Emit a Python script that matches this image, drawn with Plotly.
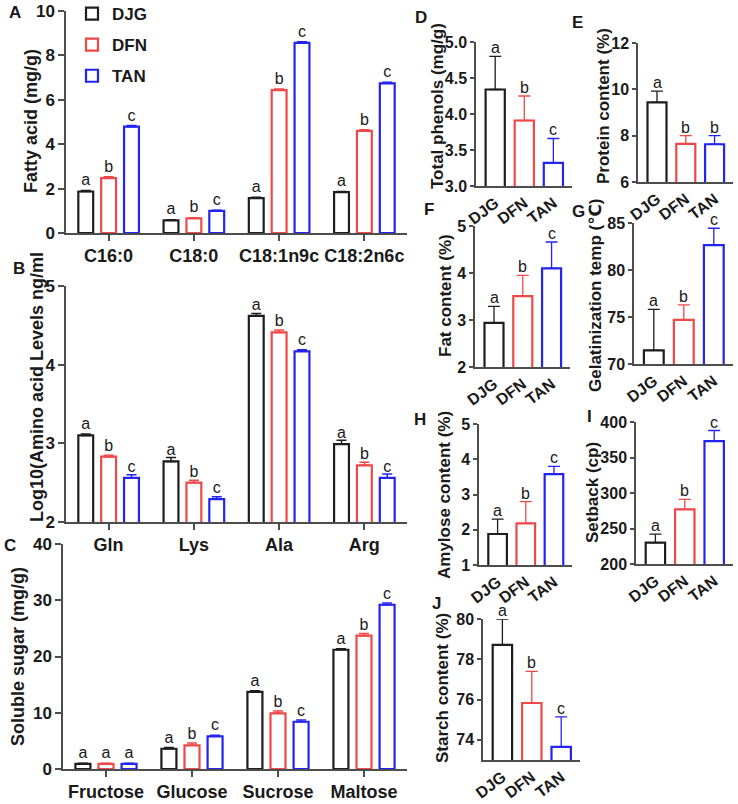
import plotly.graph_objects as go

W, H = 738, 804
FONT = "Arial, Liberation Sans, DejaVu Sans, sans-serif"
AXC = "#4d4d4d"
TXT = "#1a1a1a"

groups = ["DJG", "DFN", "TAN"]
colors = {"DJG": "#1e1e1e", "DFN": "#f04848", "TAN": "#2424f0"}

# ---- Panel A: fatty acids (mg/g)
fa_cats = ["C16:0", "C18:0", "C18:1n9c", "C18:2n6c"]
fa_DJG = [1.87, 0.57, 1.57, 1.84]
fa_DFN = [2.47, 0.66, 6.44, 4.60]
fa_TAN = [4.79, 1.00, 8.56, 6.74]
fa_err_DJG = [0.05, 0.03, 0.04, 0.03]
fa_err_DFN = [0.06, 0.03, 0.05, 0.05]
fa_err_TAN = [0.05, 0.03, 0.05, 0.05]
fa_let_DJG = ["a", "a", "a", "a"]
fa_let_DFN = ["b", "b", "b", "b"]
fa_let_TAN = ["c", "c", "c", "c"]

# ---- Panel B: amino acids (log10 ng/ml)
aa_cats = ["Gln", "Lys", "Ala", "Arg"]
aa_DJG = [3.10, 2.77, 4.62, 2.99]
aa_DFN = [2.83, 2.50, 4.41, 2.72]
aa_TAN = [2.56, 2.29, 4.17, 2.56]
aa_err_DJG = [0.02, 0.05, 0.03, 0.05]
aa_err_DFN = [0.02, 0.03, 0.03, 0.04]
aa_err_TAN = [0.04, 0.03, 0.02, 0.05]
aa_let_DJG = ["a", "a", "a", "a"]
aa_let_DFN = ["b", "b", "b", "b"]
aa_let_TAN = ["c", "c", "c", "c"]

# ---- Panel C: soluble sugar (mg/g)
sg_cats = ["Fructose", "Glucose", "Sucrose", "Maltose"]
sg_DJG = [0.9, 3.6, 13.7, 21.2]
sg_DFN = [0.9, 4.2, 9.9, 23.7]
sg_TAN = [0.9, 5.8, 8.4, 29.2]
sg_err_DJG = [0.1, 0.2, 0.2, 0.2]
sg_err_DFN = [0.1, 0.4, 0.4, 0.4]
sg_err_TAN = [0.1, 0.2, 0.3, 0.3]
sg_let_DJG = ["a", "a", "a", "a"]
sg_let_DFN = ["a", "b", "b", "b"]
sg_let_TAN = ["a", "c", "c", "c"]

# ---- Panels D-J (values for DJG, DFN, TAN)
tp_val = [4.34, 3.91, 3.32]; tp_err = [0.46, 0.34, 0.34]; tp_let = ["a", "b", "c"]
pc_val = [9.44, 7.65, 7.63]; pc_err = [0.48, 0.35, 0.37]; pc_let = ["a", "b", "b"]
fc_val = [2.94, 3.51, 4.10]; fc_err = [0.35, 0.44, 0.56]; fc_let = ["a", "b", "c"]
gt_val = [71.44, 74.69, 82.64]; gt_err = [4.38, 1.59, 1.80]; gt_let = ["a", "b", "c"]
am_val = [1.88, 2.18, 3.58]; am_err = [0.42, 0.62, 0.22]; am_let = ["a", "b", "c"]
sb_val = [230, 277, 373]; sb_err = [12, 14, 15]; sb_let = ["a", "b", "c"]
st_val = [78.72, 75.83, 73.65]; st_err = [1.27, 1.57, 1.49]; st_let = ["a", "b", "c"]


def dx(a, b):
    return [a / W, b / W]


def dy(top, bottom):
    return [1 - bottom / H, 1 - top / H]


fig = go.Figure()
layout = {}
annotations = []

# ---------------- grouped panels A, B, C ----------------
grouped = [
    (1, fa_cats, [fa_DJG, fa_DFN, fa_TAN], [fa_err_DJG, fa_err_DFN, fa_err_TAN],
     [fa_let_DJG, fa_let_DFN, fa_let_TAN], [0, 10], 2, (66, 407), (11, 233),
     "Fatty acid (mg/g)", (31, 121), "A", (15, 12)),
    (2, aa_cats, [aa_DJG, aa_DFN, aa_TAN], [aa_err_DJG, aa_err_DFN, aa_err_TAN],
     [aa_let_DJG, aa_let_DFN, aa_let_TAN], [2, 5], 1, (66, 407), (286, 522),
     "Log10(Amino acid Levels ng/ml", (37, 387), "B", (19, 269)),
    (3, sg_cats, [sg_DJG, sg_DFN, sg_TAN], [sg_err_DJG, sg_err_DFN, sg_err_TAN],
     [sg_let_DJG, sg_let_DFN, sg_let_TAN], [0, 40], 10, (63, 407), (544, 769),
     "Soluble sugar (mg/g)", (18, 657), "C", (10, 545)),
]

for idx, cats, vals, errs, lets, yr, dt, xd, yd, title, tpos, lab, lpos in grouped:
    xa = "x" if idx == 1 else f"x{idx}"
    ya = "y" if idx == 1 else f"y{idx}"
    for g, v, e, l in zip(groups, vals, errs, lets):
        fig.add_trace(go.Bar(
            x=cats, y=v, name=g, xaxis=xa, yaxis=ya,
            marker=dict(color="white", line=dict(color=colors[g], width=2.2)),
            error_y=dict(type="data", symmetric=False, array=e,
                         arrayminus=[0] * len(e), color=colors[g],
                         thickness=1.5, width=5),
            text=l, textposition="outside", constraintext="none", cliponaxis=False,
            textfont=dict(family=FONT, size=16, color=TXT),
            legendgroup=g, showlegend=(idx == 1),
        ))
    layout["xaxis" if idx == 1 else f"xaxis{idx}"] = dict(
        domain=dx(*xd), anchor=ya, type="category", categoryorder="array",
        categoryarray=cats, range=[-0.5, 3.5], showline=True, linecolor=AXC,
        linewidth=1.5, ticks="outside", ticklen=6, tickwidth=1.5, tickcolor=AXC,
        tickfont=dict(family=FONT, size=18, color=TXT, weight="bold"),
        showgrid=False, zeroline=False, fixedrange=True,
    )
    layout["yaxis" if idx == 1 else f"yaxis{idx}"] = dict(
        domain=dy(*yd), anchor=xa, range=yr, dtick=dt, showline=True, linecolor=AXC,
        linewidth=1.5, ticks="outside", ticklen=6, tickwidth=1.5, tickcolor=AXC,
        tickfont=dict(family=FONT, size=17, color=TXT, weight="bold"),
        showgrid=False, zeroline=False, fixedrange=True,
    )
    annotations.append(dict(
        text=title, x=tpos[0] / W, y=1 - tpos[1] / H, xref="paper", yref="paper",
        textangle=-90, showarrow=False, xanchor="center", yanchor="middle",
        font=dict(family=FONT, size=18, color=TXT, weight="bold"),
    ))
    annotations.append(dict(
        text=lab, x=lpos[0] / W, y=1 - lpos[1] / H, xref="paper", yref="paper",
        showarrow=False, xanchor="center", yanchor="middle",
        font=dict(family=FONT, size=17, color=TXT, weight="bold"),
    ))

# ---------------- single panels D-J ----------------
singles = [
    (4, tp_val, tp_err, tp_let, [3, 5], 0.5, ".1f", (476, 572), (42, 186),
     "Total phenols (mg/g)", (437, 106), "D", (421, 18)),
    (5, pc_val, pc_err, pc_let, [6, 12], 2, "", (638, 733), (43, 182),
     "Protein content (%)", (603, 106), "E", (577, 22)),
    (6, fc_val, fc_err, fc_let, [2, 5], 1, "", (475, 570), (226, 367),
     "Fat content (%)", (445, 296), "F", (429, 210)),
    (7, gt_val, gt_err, gt_let, [70, 85], 5, "", (634, 733), (223, 364),
     "Gelatinization temp (\u2103)", (595, 296), "G", (578, 211)),
    (8, am_val, am_err, am_let, [1, 5], 1, "", (479, 572), (424, 565),
     "Amylose content (%)", (445, 495), "H", (420, 420)),
    (9, sb_val, sb_err, sb_let, [200, 400], 50, "", (636, 733), (422, 564),
     "Setback (cp)", (592, 493), "I", (589, 416)),
    (10, st_val, st_err, st_let, [73, 80], 2, "", (483, 580), (619, 760),
     "Starch content (%)", (442, 688), "J", (437, 603)),
]

for idx, vals, errs, lets, yr, dt, fmt, xd, yd, title, tpos, lab, lpos in singles:
    xa, ya = f"x{idx}", f"y{idx}"
    for g, v, e, l in zip(groups, vals, errs, lets):
        fig.add_trace(go.Bar(
            x=[g], y=[v], name=g, xaxis=xa, yaxis=ya, width=0.66,
            offsetgroup=f"p{idx}",
            marker=dict(color="white", line=dict(color=colors[g], width=2.2)),
            error_y=dict(type="data", symmetric=False, array=[e], arrayminus=[0],
                         color=colors[g], thickness=1.3, width=6),
            showlegend=False,
        ))
        annotations.append(dict(
            text=l, x=g, y=v + e, xref=xa, yref=ya, showarrow=False,
            xanchor="center", yanchor="bottom", yshift=-2,
            font=dict(family=FONT, size=16, color=TXT),
        ))
    layout[f"xaxis{idx}"] = dict(
        domain=dx(*xd), anchor=ya, type="category", categoryorder="array",
        categoryarray=groups, range=[-0.66, 2.64], showline=True, linecolor=AXC,
        linewidth=1.5, ticks="", tickangle=-37,
        tickfont=dict(family=FONT, size=16, color=TXT, weight="bold"),
        showgrid=False, zeroline=False, fixedrange=True,
    )
    yax = dict(
        domain=dy(*yd), anchor=xa, range=yr, dtick=dt, showline=True, linecolor=AXC,
        linewidth=1.5, ticks="outside", ticklen=4, tickwidth=1.5, tickcolor=AXC,
        tickfont=dict(family=FONT, size=16, color=TXT, weight="bold"),
        showgrid=False, zeroline=False, fixedrange=True,
    )
    if fmt:
        yax["tickformat"] = fmt
    if idx == 10:
        yax["tick0"] = 74
    layout[f"yaxis{idx}"] = yax
    annotations.append(dict(
        text=title, x=tpos[0] / W, y=1 - tpos[1] / H, xref="paper", yref="paper",
        textangle=-90, showarrow=False, xanchor="center", yanchor="middle",
        font=dict(family=FONT, size=17, color=TXT, weight="bold"),
    ))
    annotations.append(dict(
        text=lab, x=lpos[0] / W, y=1 - lpos[1] / H, xref="paper", yref="paper",
        showarrow=False, xanchor="center", yanchor="middle",
        font=dict(family=FONT, size=17, color=TXT, weight="bold"),
    ))

fig.update_layout(
    width=W, height=H, margin=dict(l=0, r=0, t=0, b=0, autoexpand=False),
    paper_bgcolor="white", plot_bgcolor="white",
    barmode="group", bargap=0.195, bargroupgap=0.35,
    font=dict(family=FONT, color=TXT),
    showlegend=True,
    legend=dict(x=72 / W, y=1 + 4 / H, xanchor="left", yanchor="top",
                bgcolor="rgba(0,0,0,0)", traceorder="grouped", tracegroupgap=6,
                font=dict(family=FONT, size=17, color=TXT, weight="bold"),
                itemclick=False, itemdoubleclick=False),
    annotations=annotations,
    **layout,
)

fig.write_html("out.html", config={"displayModeBar": False})
